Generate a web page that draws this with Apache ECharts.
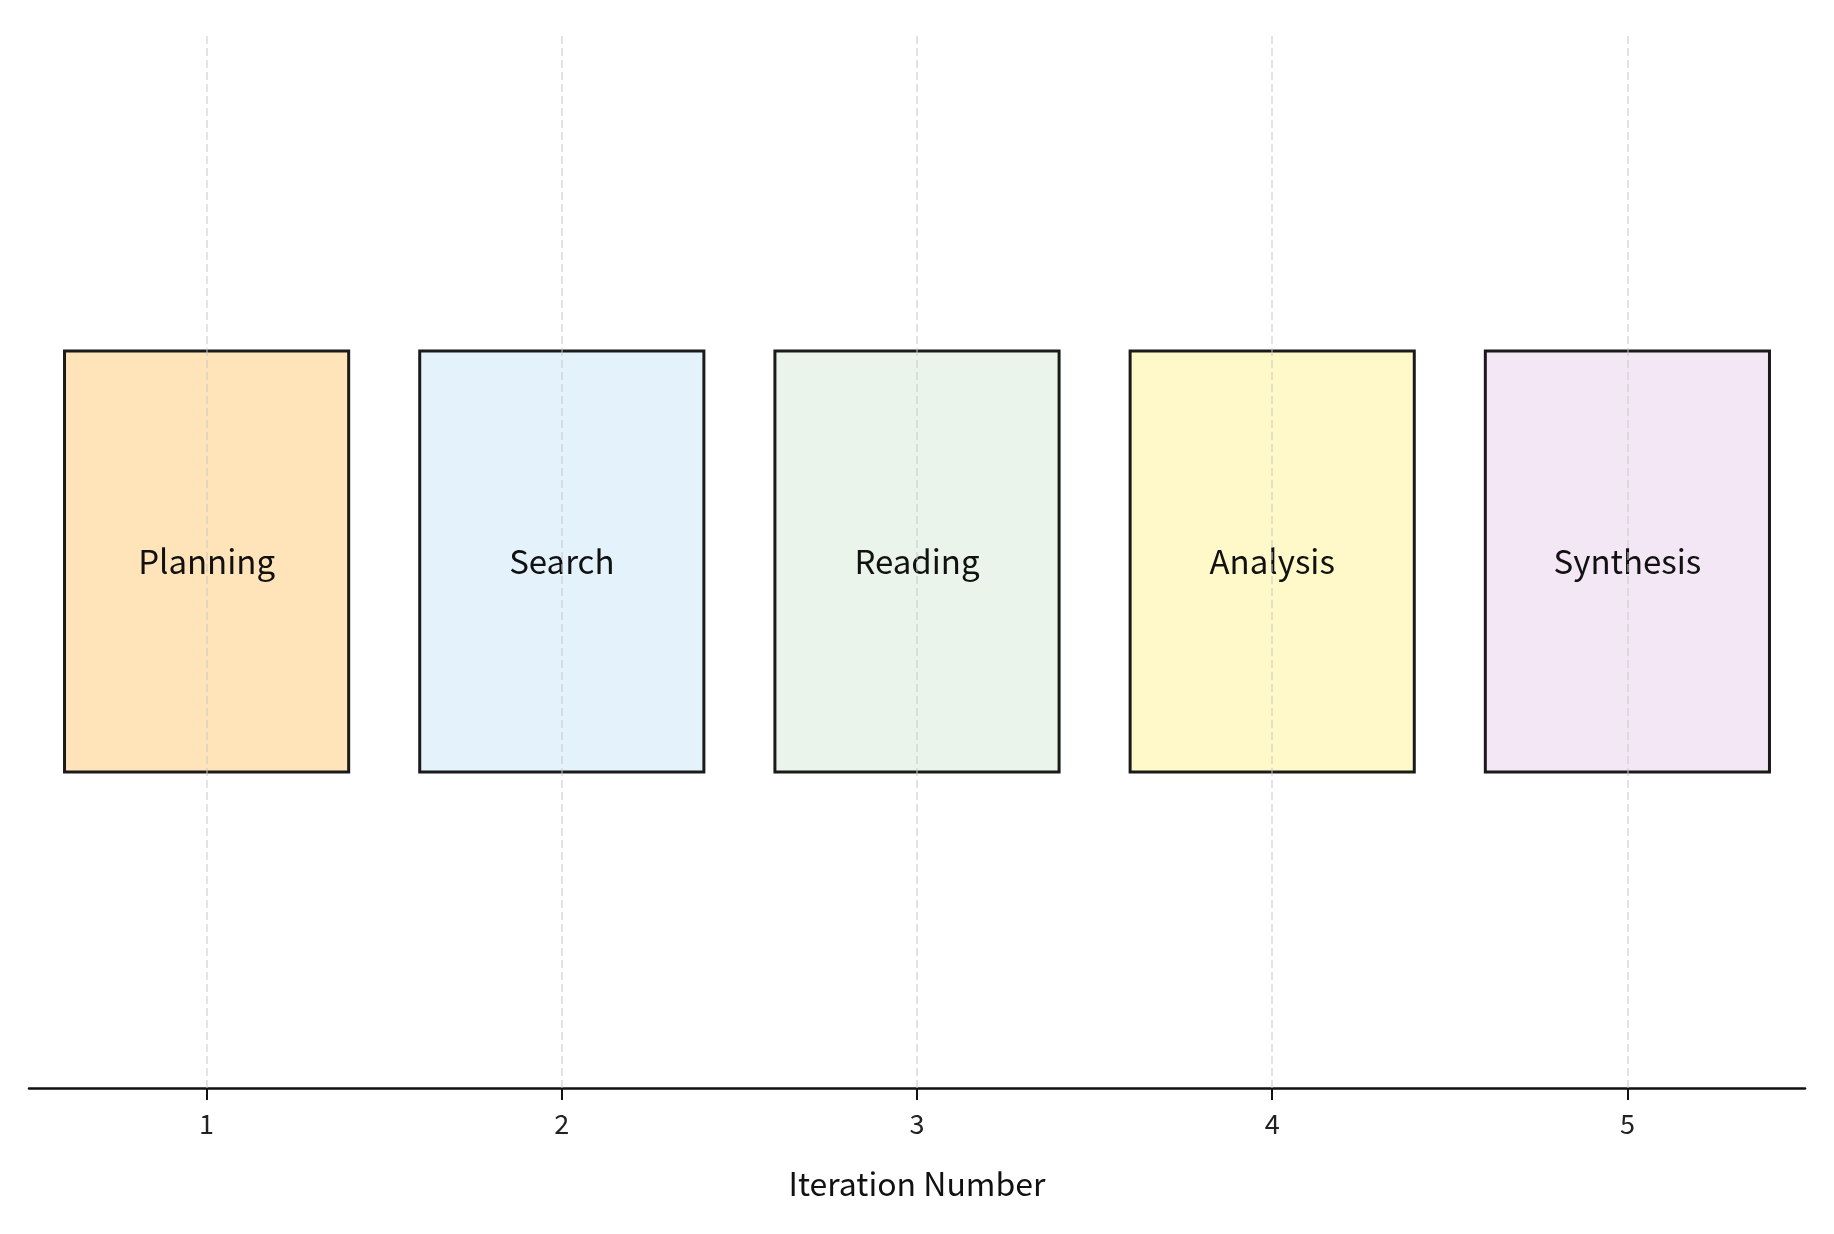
<!DOCTYPE html>
<html><head><meta charset="utf-8">
<script src="https://cdn.jsdelivr.net/npm/echarts@6/dist/echarts.min.js"></script>
<style>html,body{margin:0;background:#fff}#c{width:1834px;height:1234px}</style>
</head><body><div id="c"></div>
<script>
var stages = ['Planning', 'Search', 'Reading', 'Analysis', 'Synthesis'];
var iterations = [1, 2, 3, 4, 5];
var colors = ['#FFE3B9', '#E4F2FC', '#EAF4EA', '#FFF9C9', '#F3E6F5'];
var boxLow = 0.3, boxHigh = 0.7, halfWidth = 0.4;

var myChart = echarts.init(document.getElementById('c'));
var font = '"Noto Sans CJK KR", "Noto Sans", sans-serif';

var option = {
	animation: false,
	grid: {left: 29, right: 29, top: 35, bottom: 146},
	xAxis: {
		type: 'value', min: 0.5, max: 5.5,
		name: 'Iteration Number', nameLocation: 'middle', nameGap: 80,
		nameTextStyle: {fontFamily: font, fontSize: 32, color: '#111'},
		axisLine: {lineStyle: {color: '#111', width: 2.5}},
		axisTick: {show: true, length: 12, customValues: iterations, lineStyle: {color: '#111', width: 2}},
		axisLabel: {fontFamily: font, fontSize: 27, color: '#222', margin: 22, customValues: iterations},
		splitLine: {show: false}
	},
	yAxis: {type: 'value', min: 0, max: 1, show: false},
	series: [{
		type: 'custom',
		z: 3,
		data: iterations.map(function (x, i) { return [x, i]; }),
		renderItem: function (params, api) {
			var x = api.value(0), i = api.value(1);
			var p0 = api.coord([x - halfWidth, boxHigh]);
			var p1 = api.coord([x + halfWidth, boxLow]);
			return {
				type: 'group',
				children: [{
					type: 'rect',
					shape: {x: p0[0], y: p0[1], width: p1[0] - p0[0], height: p1[1] - p0[1]},
					style: {fill: colors[i], stroke: '#1a1a1a', lineWidth: 3}
				}, {
					type: 'text',
					style: {text: stages[i], x: (p0[0] + p1[0]) / 2, y: (p0[1] + p1[1]) / 2,
						align: 'center', verticalAlign: 'middle', fontFamily: font, fontSize: 33, fill: '#111'}
				}]
			};
		},
		markLine: {
			silent: true, symbol: 'none', z: 10,
			label: {show: false},
			lineStyle: {color: 'rgba(200,200,200,0.5)', type: 'dashed', width: 2},
			data: iterations.map(function (x) { return {xAxis: x}; })
		}
	}]
};
myChart.setOption(option);
</script></body></html>
